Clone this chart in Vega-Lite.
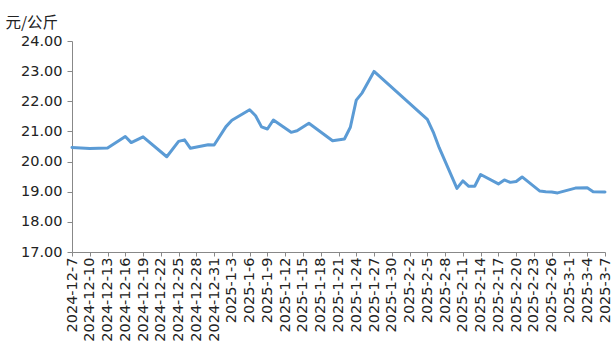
{
  "$schema": "https://vega.github.io/schema/vega-lite/v6.json",
  "width": 533,
  "height": 211,
  "autosize": {"type": "none"},
  "padding": {"left": 72, "top": 41, "right": 11, "bottom": 104},
  "background": "white",
  "config": {"view": {"stroke": null}},
  "data": {"values": [
    {"date": "2024/12/7", "price": 20.47},
    {"date": "2024/12/10", "price": 20.43},
    {"date": "2024/12/13", "price": 20.45},
    {"date": "2024/12/16", "price": 20.83},
    {"date": "2024/12/17", "price": 20.63},
    {"date": "2024/12/19", "price": 20.82},
    {"date": "2024/12/23", "price": 20.16},
    {"date": "2024/12/25", "price": 20.67},
    {"date": "2024/12/26", "price": 20.72},
    {"date": "2024/12/27", "price": 20.44},
    {"date": "2024/12/30", "price": 20.56},
    {"date": "2024/12/31", "price": 20.55},
    {"date": "2025/1/2", "price": 21.16},
    {"date": "2025/1/3", "price": 21.37},
    {"date": "2025/1/6", "price": 21.72},
    {"date": "2025/1/7", "price": 21.52},
    {"date": "2025/1/8", "price": 21.15},
    {"date": "2025/1/9", "price": 21.08},
    {"date": "2025/1/10", "price": 21.38},
    {"date": "2025/1/13", "price": 20.97},
    {"date": "2025/1/14", "price": 21.02},
    {"date": "2025/1/16", "price": 21.27},
    {"date": "2025/1/20", "price": 20.69},
    {"date": "2025/1/22", "price": 20.75},
    {"date": "2025/1/23", "price": 21.14},
    {"date": "2025/1/24", "price": 22.04},
    {"date": "2025/1/25", "price": 22.28},
    {"date": "2025/1/27", "price": 22.99},
    {"date": "2025/2/5", "price": 21.4},
    {"date": "2025/2/6", "price": 20.98},
    {"date": "2025/2/7", "price": 20.46},
    {"date": "2025/2/10", "price": 19.11},
    {"date": "2025/2/11", "price": 19.36},
    {"date": "2025/2/12", "price": 19.18},
    {"date": "2025/2/13", "price": 19.18},
    {"date": "2025/2/14", "price": 19.57},
    {"date": "2025/2/17", "price": 19.26},
    {"date": "2025/2/18", "price": 19.39},
    {"date": "2025/2/19", "price": 19.31},
    {"date": "2025/2/20", "price": 19.34},
    {"date": "2025/2/21", "price": 19.49},
    {"date": "2025/2/24", "price": 19.02},
    {"date": "2025/2/25", "price": 19.0},
    {"date": "2025/2/26", "price": 18.99},
    {"date": "2025/2/27", "price": 18.96},
    {"date": "2025/3/2", "price": 19.12},
    {"date": "2025/3/4", "price": 19.13},
    {"date": "2025/3/5", "price": 19.0},
    {"date": "2025/3/7", "price": 18.99}
  ]},
  "mark": {"type": "line", "color": "#5b9bd5", "strokeWidth": 3, "strokeJoin": "round", "strokeCap": "round"},
  "encoding": {
    "x": {
      "field": "date", "type": "temporal",
      "scale": {"domain": [{"year": 2024, "month": 12, "date": 7}, {"year": 2025, "month": 3, "date": 7}]},
      "axis": {
        "title": null, "grid": false, "format": "%Y-%-m-%-d", "labelAngle": -90,
        "labelAlign": "right", "labelBaseline": "middle",
        "labelFont": "DejaVu Sans", "labelFontSize": 14.5, "labelColor": "#222",
        "labelPadding": 1, "labelOverlap": false, "labelFlush": false,
        "domainColor": "#888", "tickColor": "#888", "tickSize": 4,
        "values": [
          {"year": 2024, "month": 12, "date": 7}, {"year": 2024, "month": 12, "date": 10}, {"year": 2024, "month": 12, "date": 13},
          {"year": 2024, "month": 12, "date": 16}, {"year": 2024, "month": 12, "date": 19}, {"year": 2024, "month": 12, "date": 22},
          {"year": 2024, "month": 12, "date": 25}, {"year": 2024, "month": 12, "date": 28}, {"year": 2024, "month": 12, "date": 31},
          {"year": 2025, "month": 1, "date": 3}, {"year": 2025, "month": 1, "date": 6}, {"year": 2025, "month": 1, "date": 9},
          {"year": 2025, "month": 1, "date": 12}, {"year": 2025, "month": 1, "date": 15}, {"year": 2025, "month": 1, "date": 18},
          {"year": 2025, "month": 1, "date": 21}, {"year": 2025, "month": 1, "date": 24}, {"year": 2025, "month": 1, "date": 27},
          {"year": 2025, "month": 1, "date": 30}, {"year": 2025, "month": 2, "date": 2}, {"year": 2025, "month": 2, "date": 5},
          {"year": 2025, "month": 2, "date": 8}, {"year": 2025, "month": 2, "date": 11}, {"year": 2025, "month": 2, "date": 14},
          {"year": 2025, "month": 2, "date": 17}, {"year": 2025, "month": 2, "date": 20}, {"year": 2025, "month": 2, "date": 23},
          {"year": 2025, "month": 2, "date": 26}, {"year": 2025, "month": 3, "date": 1}, {"year": 2025, "month": 3, "date": 4},
          {"year": 2025, "month": 3, "date": 7}
        ]
      }
    },
    "y": {
      "field": "price", "type": "quantitative",
      "scale": {"domain": [17, 24], "nice": false, "zero": false},
      "axis": {
        "title": "元/公斤", "titleAngle": 0, "titleAlign": "left", "titleBaseline": "alphabetic",
        "titleX": -67, "titleY": -14, "titleFont": "Noto Sans CJK SC", "titleFontSize": 15.5,
        "titleFontWeight": "normal", "titleColor": "#222",
        "grid": false, "format": ".2f", "values": [17, 18, 19, 20, 21, 22, 23, 24],
        "labelFont": "DejaVu Sans", "labelFontSize": 14.5, "labelColor": "#222", "labelPadding": 5,
        "domainColor": "#888", "tickColor": "#888", "tickSize": 5
      }
    }
  }
}
